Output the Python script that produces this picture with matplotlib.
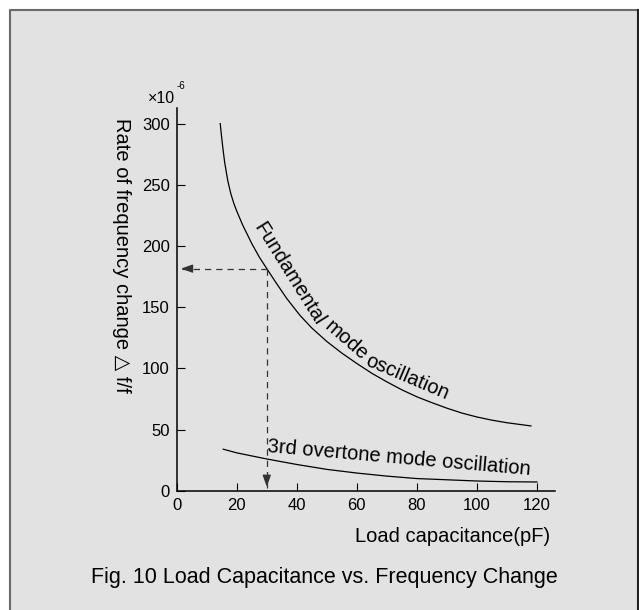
import matplotlib.pyplot as plt
from matplotlib.patches import Rectangle
from matplotlib.lines import Line2D

plt.rcParams['font.family'] = ['Liberation Sans', 'DejaVu Sans']

# values
fund_x = [14.5, 15, 15.5, 16, 17, 18, 19, 20, 22, 25, 27.5, 30, 33, 36.6, 41, 45, 50, 55, 60, 65, 70,
          75, 80, 85, 90, 95, 100, 105, 110, 118]
fund_y = [300, 288, 277.5, 268, 253.5, 243, 235, 228.5, 217, 202, 191, 181.5, 170.3, 157.3, 143.5, 133,
          122, 112.5, 104, 96, 89, 82.5, 76.8, 72, 67.5, 63.5, 60.3, 57.7, 55.6, 53]
third_x = [15.5, 20, 25, 30, 40, 50, 60, 70, 80, 90, 100, 110, 120]
third_y = [34, 31, 28.5, 26, 21.5, 17.5, 14.5, 12, 10, 9, 8, 7.4, 7.2]
x_ticks = [0, 20, 40, 60, 80, 100, 120]
y_ticks = [0, 50, 100, 150, 200, 250, 300]
mark_x = 30
mark_y = 181.5

fig = plt.figure(figsize=(6.39, 6.10), dpi=100)
fig.patch.set_facecolor('white')

# grey panel with a border on top, left and right
fig.patches.append(Rectangle((10 / 639, 0), 628 / 639, 600 / 610, transform=fig.transFigure,
                             facecolor='#e2e2e2', edgecolor='none', zorder=-10))
fig.lines.append(Line2D([10 / 639, 10 / 639, 638 / 639], [0, 600 / 610, 600 / 610],
                        transform=fig.transFigure, color='#6a6a6a', lw=1.5))
fig.lines.append(Line2D([638 / 639, 638 / 639], [0, 600 / 610],
                        transform=fig.transFigure, color='#222222', lw=1.5))

ax = fig.add_axes([176.7 / 639, (610 - 490.8) / 610, 378.3 / 639, 382.5 / 610])
ax.set_facecolor('none')
ax.set_xlim(0, 126)
ax.set_ylim(0, 312.5)
for s in ['top', 'right']:
    ax.spines[s].set_visible(False)
for s in ['left', 'bottom']:
    ax.spines[s].set_linewidth(1.1)
ax.set_xticks(x_ticks)
ax.set_yticks(y_ticks)
ax.tick_params(direction='in', length=5.5, width=0.8, labelsize=12, pad=5)

# curves
ax.plot(fund_x, fund_y, color='black', lw=0.9)
ax.plot(third_x, third_y, color='black', lw=0.9)

# dashed read-off lines with arrow heads
ax.plot([mark_x, 1.5], [mark_y, mark_y], color='#333333', lw=0.9, dashes=(5, 4))
ax.plot([mark_x, mark_x], [mark_y, 2], color='#333333', lw=0.9, dashes=(5, 4))
ax.annotate('', xy=(0.5, mark_y), xytext=(5, mark_y),
            arrowprops=dict(arrowstyle='-|>,head_length=0.7,head_width=0.25', color='#333333', lw=0.9))
ax.annotate('', xy=(mark_x, 1), xytext=(mark_x, 12),
            arrowprops=dict(arrowstyle='-|>,head_length=0.7,head_width=0.25', color='#333333', lw=0.9))

# curve labels
ax.text(37.5, 177, 'Fundamental', rotation=-58, fontsize=14.5, ha='center', va='center')
ax.text(56.5, 123, 'mode', rotation=-41, fontsize=14.5, ha='center', va='center')
ax.text(76.8, 93, 'oscillation', rotation=-23, fontsize=14.5, ha='center', va='center')
ax.text(74.1, 26.5, '3rd overtone mode oscillation', rotation=-5, fontsize=14.5,
        ha='center', va='center')

# axis labels and multiplier
fig.text(121 / 639, 1 - 118 / 610, 'Rate of frequency change \u25b3 f/f', rotation=-90,
         fontsize=14.5, ha='center', va='top')
fig.text(175.5 / 639, 1 - 103 / 610, '\u00d710', fontsize=11.5, ha='right', va='baseline')
fig.text(176.5 / 639, 1 - 89 / 610, '-6', fontsize=7, ha='left', va='baseline')
fig.text(550 / 639, 1 - 536 / 610, 'Load capacitance(pF)', fontsize=14.5, ha='right', va='center')
fig.text(324.5 / 639, 1 - 583 / 610, 'Fig. 10 Load Capacitance vs. Frequency Change',
         fontsize=15.5, ha='center', va='baseline')

fig.savefig('out.png', dpi=100)
